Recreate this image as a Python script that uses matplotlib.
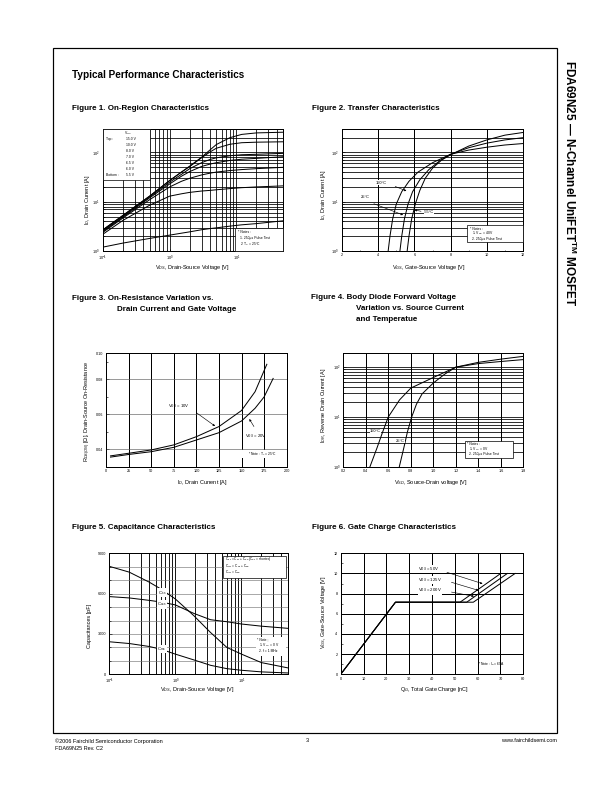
import matplotlib
matplotlib.use('Agg')
import matplotlib.pyplot as plt
import matplotlib.patches as patches
from matplotlib.ticker import LogLocator, NullFormatter, MultipleLocator, FormatStrFormatter

plt.rcParams['font.family'] = ['Liberation Sans', 'DejaVu Sans']
plt.rcParams['mathtext.fontset'] = 'custom'
plt.rcParams['mathtext.rm'] = 'Liberation Sans'
plt.rcParams['mathtext.it'] = 'Liberation Sans:italic'
plt.rcParams['mathtext.bf'] = 'Liberation Sans:bold'

W, H = 612, 792

# ---- Figure 1: on-region characteristics ----
fig1_vgs_labels = ['15.0 V', '10.0 V', '8.0 V', '7.0 V', '6.5 V', '6.0 V', '5.5 V']
fig1_vds = [0.1, 0.2, 0.5, 1, 1.5, 2, 3, 4, 5, 8, 12, 20, 50]
fig1_id = [
    [2.7, 5.3, 13, 27, 40, 53, 80, 112, 145, 200, 233, 250, 258],   # 15 V
    [2.7, 5.3, 13, 27, 40, 52, 78, 102, 122, 147, 158, 162, 165],   # 10 V
    [2.6, 5.1, 12.5, 25, 36, 47, 62, 72, 78, 86, 90, 92, 96],       # 8 V
    [2.5, 4.9, 12, 23, 33, 41, 52, 58, 62, 69, 73, 76, 82],         # 7 V
    [2.4, 4.7, 11, 20, 26, 30, 35, 38, 40, 43, 45, 47, 50],         # 6.5 V
    [2.2, 4.2, 8.5, 13, 14.5, 15.5, 16.5, 17, 17.5, 18.5, 19.3, 20, 21],  # 6 V
    [1.2, 1.45, 1.8, 2.1, 2.3, 2.45, 2.7, 2.85, 2.95, 3.2, 3.4, 3.6, 4.1],  # 5.5 V
]

# ---- Figure 2: transfer characteristics ----
fig2_vgs_150 = [4.55, 4.65, 4.8, 5.0, 5.3, 5.7, 6.2, 7.0, 8.0, 9.0, 10.0, 11.0, 12.0]
fig2_id_150 = [1, 2, 4.5, 9, 16, 26, 40, 62, 92, 112, 128, 142, 152]
fig2_vgs_25 = [5.2, 5.3, 5.45, 5.65, 5.9, 6.3, 6.8, 7.4, 8.0, 9.0, 10.0, 11.0, 12.0]
fig2_id_25 = [1, 2, 4.5, 9, 16, 28, 45, 68, 92, 125, 155, 180, 200]
fig2_vgs_m55 = [5.6, 5.7, 5.85, 6.05, 6.3, 6.6, 7.0, 7.5, 8.0, 9.0, 10.0, 11.0, 12.0]
fig2_id_m55 = [1, 2, 4.5, 9, 17, 30, 48, 70, 90, 135, 180, 225, 255]

# ---- Figure 3: on-resistance vs drain current ----
fig3_id_10 = [5, 25, 50, 75, 100, 125, 150, 165, 178]
fig3_r_10 = [0.0362, 0.0377, 0.0396, 0.0425, 0.0472, 0.053, 0.0622, 0.073, 0.0887]
fig3_id_20 = [5, 25, 50, 75, 100, 125, 150, 165, 175, 185]
fig3_r_20 = [0.0355, 0.037, 0.0386, 0.0411, 0.0453, 0.0495, 0.0562, 0.0635, 0.070, 0.0806]

# ---- Figure 4: body diode forward voltage ----
fig4_vsd_150 = [0.437, 0.5, 0.55, 0.6, 0.7, 0.8, 1.0, 1.2, 1.4, 1.6, 1.8]
fig4_isd_150 = [1, 2.4, 5, 10, 22, 38, 62, 100, 118, 130, 142]
fig4_vsd_25 = [0.698, 0.74, 0.77, 0.808, 0.85, 0.9, 1.0, 1.1, 1.2, 1.4, 1.6, 1.8]
fig4_isd_25 = [1, 2.5, 5, 10, 18, 29, 48, 72, 100, 125, 145, 165]

# ---- Figure 5: capacitance ----
fig5_vds = [0.1, 0.2, 0.4, 0.6, 1, 1.9, 3.4, 6, 10, 20, 50]
fig5_c_top = [8030, 7600, 6860, 6350, 5600, 4360, 3110, 2000, 1500, 870, 480]
fig5_c_mid = [5780, 5680, 5500, 5380, 5160, 4530, 4060, 3910, 3740, 3580, 3420]
fig5_c_bot = [2420, 2290, 2070, 1870, 1500, 1070, 670, 420, 300, 180, 100]

# ---- Figure 6: gate charge ----
fig6_qg_50 = [0, 24, 52.3, 70.1]
fig6_qg_125 = [0, 24, 55.2, 73.0]
fig6_qg_200 = [0, 24, 58.1, 76.4]
fig6_vgs = [0, 7.15, 7.15, 10]

fig = plt.figure(figsize=(W / 72, H / 72), dpi=72)


def px_ax(x0, y0, x1, y1):
    ax = fig.add_axes([x0 / W, 1 - y1 / H, (x1 - x0) / W, (y1 - y0) / H])
    for s in ax.spines.values():
        s.set_linewidth(1.0)
    ax.tick_params(which='both', direction='in', labelsize=3.8, width=0.6)
    ax.tick_params(axis='x', pad=2.5)
    ax.tick_params(axis='y', pad=3.2)
    ax.tick_params(which='major', length=2.5)
    ax.tick_params(which='minor', length=1.5)
    return ax


def ptext(x, y, s, **kw):
    kw.setdefault('fontsize', 5.5)
    kw.setdefault('va', 'center')
    return fig.text(x / W, 1 - y / H, s, **kw)


def pbox(x0, y0, x1, y1, lw=0.7):
    fig.add_artist(patches.Rectangle((x0 / W, 1 - y1 / H), (x1 - x0) / W, (y1 - y0) / H,
                                     transform=fig.transFigure, facecolor='white',
                                     edgecolor='black', lw=lw, zorder=2))


def parrow(x0, y0, x1, y1):
    fig.add_artist(patches.FancyArrowPatch((x0 / W, 1 - y0 / H), (x1 / W, 1 - y1 / H),
                                           transform=fig.transFigure, arrowstyle='-|>',
                                           mutation_scale=4, lw=0.6, color='black', zorder=2))


def log_axis(axis):
    axis.set_major_locator(LogLocator(base=10))
    axis.set_minor_locator(LogLocator(base=10, subs=range(2, 10)))
    axis.set_minor_formatter(NullFormatter())


# page frame
fig.add_artist(patches.Rectangle((53 / W, 1 - 733 / H), (557 - 53) / W, (733 - 48) / H,
                                 transform=fig.transFigure, fill=False, edgecolor='black', lw=1.2))
ptext(72, 75, 'Typical Performance Characteristics', fontsize=10, fontweight='bold')
ptext(570, 183, 'FDA69N25 \u2014 N-Channel UniFET$^{\\mathbf{TM}}$ MOSFET', rotation=-90,
      ha='center', fontsize=11.8, fontweight='bold')

ptext(55, 741, '\u00a92006 Fairchild Semiconductor Corporation', fontsize=5.5)
ptext(55, 749, 'FDA69N25 Rev. C2', fontsize=5.5)
ptext(307, 741, '3', fontsize=5.5, ha='center')
ptext(557, 741, 'www.fairchildsemi.com', fontsize=5.5, ha='right')

title_kw = dict(fontsize=8, fontweight='bold')
note_fs = 3.4

# ---------------- Figure 1 ----------------
ptext(72, 109, 'Figure 1. On-Region Characteristics', **title_kw)
ax1 = px_ax(103, 129, 283, 251)
ax1.set_xscale('log')
ax1.set_yscale('log')
ax1.set_xlim(0.1, 50)
ax1.set_ylim(1, 300)
log_axis(ax1.xaxis)
log_axis(ax1.yaxis)
ax1.grid(which='both', color='black', lw=0.8)
for ids in fig1_id:
    ax1.plot(fig1_vds, ids, color='black', lw=1.0)
pbox(103, 129, 149.5, 179.5)
ptext(128, 133, 'V$_{GS}$', fontsize=note_fs, ha='center')
ptext(106, 139.3, 'Top :', fontsize=note_fs)
ptext(106, 175.5, 'Bottom :', fontsize=note_fs)
for i, lab in enumerate(fig1_vgs_labels):
    ptext(126, 139.3 + i * 6.03, lab, fontsize=note_fs)
pbox(235, 227.5, 283, 251)
ptext(238.3, 232, '* Notes :', fontsize=note_fs)
ptext(239.5, 238, '1. 250\u03bcs Pulse Test', fontsize=note_fs)
ptext(239.5, 244, '2. T$_C$ = 25\u00b0C', fontsize=note_fs)
ptext(192, 268, 'V$_{DS}$, Drain-Source Voltage [V]', ha='center')
ptext(88, 200, 'I$_D$, Drain Current [A]', rotation=90, ha='center')

# ---------------- Figure 2 ----------------
ptext(312, 109, 'Figure 2. Transfer Characteristics', **title_kw)
ax2 = px_ax(342, 129, 523, 251)
ax2.set_yscale('log')
ax2.set_xlim(2, 12)
ax2.set_ylim(1, 300)
log_axis(ax2.yaxis)
ax2.xaxis.set_major_locator(MultipleLocator(2))
ax2.xaxis.set_minor_locator(MultipleLocator(1))
ax2.grid(which='major', axis='x', color='black', lw=1.0)
ax2.grid(which='both', axis='y', color='black', lw=0.8)
ax2.plot(fig2_vgs_150, fig2_id_150, color='black', lw=1.0)
ax2.plot(fig2_vgs_25, fig2_id_25, color='black', lw=1.0)
ax2.plot(fig2_vgs_m55, fig2_id_m55, color='black', lw=1.0)
ptext(381.5, 182.7, '150\u00b0C', fontsize=4, ha='center',
      bbox=dict(facecolor='white', edgecolor='none', pad=0.3))
ptext(365.5, 196.7, '25\u00b0C', fontsize=4, ha='center',
      bbox=dict(facecolor='white', edgecolor='none', pad=0.3))
ptext(429, 211.8, '-55\u00b0C', fontsize=4, ha='center',
      bbox=dict(facecolor='white', edgecolor='none', pad=0.3))
parrow(393.3, 185.7, 408.3, 191.7)
parrow(372, 203, 405, 215.7)
parrow(423, 211.7, 412.5, 209.5)
pbox(466.5, 225.5, 523, 242)
ptext(469.7, 228.8, '* Notes :', fontsize=note_fs)
ptext(472, 233.6, '1. V$_{DS}$ = 40V', fontsize=note_fs)
ptext(472, 238.6, '2. 250\u03bcs Pulse Test', fontsize=note_fs)
ptext(429, 268, 'V$_{GS}$, Gate-Source Voltage [V]', ha='center')
ptext(323.5, 195, 'I$_D$, Drain Current [A]', rotation=90, ha='center')

# ---------------- Figure 3 ----------------
ptext(72, 298.3, 'Figure 3. On-Resistance Variation vs.', **title_kw)
ptext(117, 309.3, 'Drain Current and Gate Voltage', **title_kw)
ax3 = px_ax(106, 353.3, 286.7, 466.7)
ax3.set_xlim(0, 200)
ax3.set_ylim(0.03, 0.095)
ax3.xaxis.set_major_locator(MultipleLocator(25))
ax3.set_yticks([0.04, 0.06, 0.08, 0.095])
ax3.set_yticklabels(['0.04', '0.06', '0.08', '0.10'])
ax3.yaxis.set_minor_locator(MultipleLocator(0.01))
ax3.grid(which='major', axis='x', color='black', lw=1.0)
for yv in [0.04, 0.06, 0.08]:
    ax3.axhline(yv, color='0.35', lw=0.6)
ax3.plot(fig3_id_10, fig3_r_10, color='black', lw=1.0)
ax3.plot(fig3_id_20, fig3_r_20, color='black', lw=1.0)
ptext(168.3, 406, 'V$_{GS}$ = 10V', fontsize=4.2)
parrow(195, 411.7, 216.7, 427.3)
ptext(245, 436, 'V$_{GS}$ = 20V', fontsize=4.2)
parrow(255, 428.3, 248.3, 417.3)
pbox(236.7, 449.8, 286.7, 458.3, lw=0)
ptext(262, 454, '* Note : T$_J$ = 25\u00b0C', fontsize=note_fs, ha='center')
ptext(202, 482.7, 'I$_D$, Drain Current [A]', ha='center')
ptext(88, 411, 'R$_{DS(ON)}$ [\u03a9], Drain-Source On-Resistance', rotation=90, ha='center')

# ---------------- Figure 4 ----------------
ptext(311, 297.3, 'Figure 4. Body Diode Forward Voltage', **title_kw)
ptext(356, 308.3, 'Variation vs. Source Current', **title_kw)
ptext(356, 319.3, 'and Temperatue', **title_kw)
ax4 = px_ax(343.3, 353.3, 523.3, 466.7)
ax4.set_yscale('log')
ax4.set_xlim(0.2, 1.8)
ax4.set_ylim(1, 190)
log_axis(ax4.yaxis)
ax4.xaxis.set_major_locator(MultipleLocator(0.2))
ax4.xaxis.set_major_formatter(FormatStrFormatter('%.1f'))
ax4.grid(which='major', axis='x', color='black', lw=1.0)
ax4.grid(which='both', axis='y', color='black', lw=0.8)
ax4.plot(fig4_vsd_150, fig4_isd_150, color='black', lw=1.0)
ax4.plot(fig4_vsd_25, fig4_isd_25, color='black', lw=1.0)
ptext(375.7, 431, '150\u00b0C', fontsize=4, ha='center',
      bbox=dict(facecolor='white', edgecolor='none', pad=0.3))
ptext(400, 441, '25\u00b0C', fontsize=4, ha='center',
      bbox=dict(facecolor='white', edgecolor='none', pad=0.3))
pbox(465, 440.5, 513.3, 457.5)
ptext(467, 443.6, '* Notes :', fontsize=note_fs)
ptext(469.3, 449, '1. V$_{GS}$ = 0V', fontsize=note_fs)
ptext(469.3, 454.2, '2. 250\u03bcs Pulse Test', fontsize=note_fs)
ptext(431, 482.7, 'V$_{SD}$, Source-Drain voltage [V]', ha='center')
ptext(323.5, 405, 'I$_{DR}$, Reverse Drain Current [A]', rotation=90, ha='center')

# ---------------- Figure 5 ----------------
ptext(72, 527.7, 'Figure 5. Capacitance Characteristics', **title_kw)
ax5 = px_ax(109.3, 553.3, 287.7, 674.3)
ax5.set_xscale('log')
ax5.set_xlim(0.1, 50)
ax5.set_ylim(0, 9000)
log_axis(ax5.xaxis)
ax5.yaxis.set_major_locator(MultipleLocator(3000))
ax5.yaxis.set_minor_locator(MultipleLocator(1000))
ax5.grid(which='both', axis='x', color='black', lw=0.9)
ax5.grid(which='both', axis='y', color='0.45', lw=0.6)
ax5.plot(fig5_vds, fig5_c_top, color='black', lw=1.0)
ax5.plot(fig5_vds, fig5_c_mid, color='black', lw=1.0)
ax5.plot(fig5_vds, fig5_c_bot, color='black', lw=1.0)
cap_bbox = dict(facecolor='white', edgecolor='none', pad=0.6)
ptext(162, 592.7, 'C$_{iss}$', fontsize=4.2, ha='center', bbox=cap_bbox)
ptext(162, 604.3, 'C$_{oss}$', fontsize=4.2, ha='center', bbox=cap_bbox)
ptext(162, 649, 'C$_{rss}$', fontsize=4.2, ha='center', bbox=cap_bbox)
pbox(222.7, 556, 286, 578.3)
ptext(225, 558.8, 'C$_{iss}$ = C$_{gs}$ + C$_{gd}$ (C$_{ds}$ = shorted)', fontsize=3.2)
ptext(225, 565.3, 'C$_{oss}$ = C$_{ds}$ + C$_{gd}$', fontsize=3.2)
ptext(225, 572, 'C$_{rss}$ = C$_{gd}$', fontsize=3.2)
pbox(256, 637, 286, 655.5, lw=0)
ptext(257.3, 639.8, '* Note ;', fontsize=note_fs)
ptext(259.3, 645.5, '1. V$_{GS}$ = 0 V', fontsize=note_fs)
ptext(259.3, 651.4, '2. f = 1 MHz', fontsize=note_fs)
ptext(197, 690, 'V$_{DS}$, Drain-Source Voltage [V]', ha='center')
ptext(89.5, 626, 'Capacitances [pF]', rotation=90, ha='center')

# ---------------- Figure 6 ----------------
ptext(312, 527.7, 'Figure 6. Gate Charge Characteristics', **title_kw)
ax6 = px_ax(340.7, 553.3, 523.3, 674.3)
ax6.set_xlim(0, 80)
ax6.set_ylim(0, 12)
ax6.xaxis.set_major_locator(MultipleLocator(10))
ax6.yaxis.set_major_locator(MultipleLocator(2))
ax6.yaxis.set_minor_locator(MultipleLocator(1))
ax6.grid(which='major', color='black', lw=1.0)
ax6.plot(fig6_qg_50, fig6_vgs, color='black', lw=1.0)
ax6.plot(fig6_qg_125, fig6_vgs, color='black', lw=1.0)
ax6.plot(fig6_qg_200, fig6_vgs, color='black', lw=1.0)
lab_bbox = dict(facecolor='white', edgecolor='none', pad=0.3)
ptext(418.3, 569, 'V$_{DS}$ = 50V', fontsize=4.2, bbox=lab_bbox)
ptext(418.3, 580, 'V$_{DS}$ = 125V', fontsize=4.2, bbox=lab_bbox)
ptext(418.3, 590.5, 'V$_{DS}$ = 200V', fontsize=4.2, bbox=lab_bbox)
parrow(445, 571.7, 484.5, 584.3)
parrow(449.5, 581.7, 480.5, 591)
parrow(449.5, 591.7, 476, 596.7)
ptext(491, 664.3, '* Note : I$_D$ = 69A', fontsize=note_fs, ha='center')
ptext(435, 690, 'Q$_G$, Total Gate Charge [nC]', ha='center')
ptext(323, 612, 'V$_{GS}$, Gate-Source Voltage [V]', rotation=90, ha='center')

fig.savefig('out.png', dpi=72)
